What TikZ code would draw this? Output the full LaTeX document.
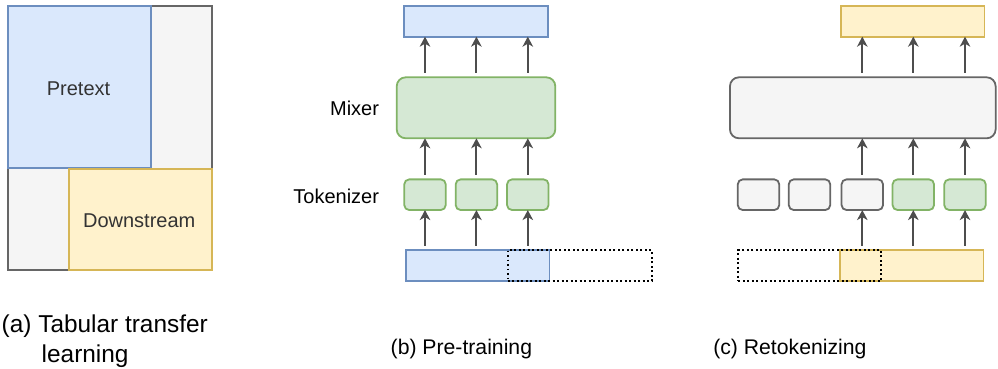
\documentclass[tikz,border=0pt]{standalone}
\usepackage{fontspec}
\setmainfont{Liberation Sans}
\usetikzlibrary{arrows.meta}
\definecolor{bluefill}{HTML}{DAE8FC}
\definecolor{bluedraw}{HTML}{6C8EBF}
\definecolor{yelfill}{HTML}{FFF2CC}
\definecolor{yeldraw}{HTML}{D6B656}
\definecolor{grnfill}{HTML}{D5E8D4}
\definecolor{grndraw}{HTML}{82B366}
\definecolor{greyfill}{HTML}{F5F5F5}
\definecolor{greydraw}{HTML}{666666}
\definecolor{arrcol}{HTML}{4D4D4D}
\definecolor{txtgrey}{HTML}{333333}
\tikzset{
  box/.style={rectangle, line width=1.8pt, inner sep=0pt, outer sep=0pt},
  bluebox/.style={box, fill=bluefill, draw=bluedraw},
  yelbox/.style={box, fill=yelfill, draw=yeldraw},
  grnbox/.style={box, fill=grnfill, draw=grndraw},
  greybox/.style={box, fill=greyfill, draw=greydraw},
  dotbox/.style={box, draw=black, line width=1.9pt, dash pattern=on 1.9pt off 2.6pt},
  tokbox/.style={minimum width=41.5pt, minimum height=30.7pt, rounded corners=5pt},
  mixbox/.style={minimum height=61pt, rounded corners=9pt},
  barbox/.style={minimum width=143.4pt, minimum height=30.7pt},
  arr/.style={draw=arrcol, line width=2pt, -{Stealth[length=10pt,width=10.5pt,inset=3pt]}, shorten <=4.5pt},
  lbl/.style={inner sep=0pt, outer sep=0pt, font=\fontsize{20pt}{24pt}\selectfont},
  captxt/.style={inner sep=0pt, outer sep=0pt, anchor=base west, font=\fontsize{21.2pt}{25pt}\selectfont},
}
\begin{document}
\begin{tikzpicture}[x=1pt,y=-1pt]
\useasboundingbox (0,0) rectangle (998,368);
% ---------- (a)
\node[greybox, minimum width=204pt, minimum height=264pt] (outer) at (110,138) {};
\node[bluebox, minimum width=143pt, minimum height=162pt] (pre) at (79.5,87.2) {};
\node[yelbox, minimum width=143pt, minimum height=101pt] (down) at (140.5,219.5) {};
\node[lbl, text=txtgrey, anchor=base] (pretxt) at (78.5,95.7) {Pretext};
\node[lbl, text=txtgrey, anchor=base] (downtxt) at (139.2,227.7) {Downstream};
\node[captxt, font=\fontsize{24.4pt}{28pt}\selectfont] (capa1) at (1.7,332) {(a) Tabular transfer};
\node[captxt, font=\fontsize{24.4pt}{28pt}\selectfont] (capa2) at (41.7,362) {learning};
% ---------- (b)
\node[bluebox, barbox] (btop) at (476,21.3) {};
\node[grnbox, mixbox, minimum width=158.6pt] (bmix) at (476,107.8) {};
\node[grnbox, tokbox] (bt1) at (425,194.7) {};
\node[grnbox, tokbox] (bt2) at (476.4,194.7) {};
\node[grnbox, tokbox] (bt3) at (527.8,194.7) {};
\node[bluebox, barbox] (bin) at (477.7,265.5) {};
\node[dotbox, minimum width=144pt, minimum height=31pt] (bdot) at (579.7,265.5) {};
\foreach \t in {bt1,bt2,bt3}{
  \draw[arr] (\t.south |- bin.north) -- (\t.south);
  \draw[arr] (\t.north) -- (\t.north |- bmix.south);
  \draw[arr] (\t.north |- bmix.north) -- (\t.north |- btop.south);
}
\node[lbl, anchor=base east] (mixlbl) at (379,115) {Mixer};
\node[lbl, anchor=base east] (toklbl) at (379,203.3) {Tokenizer};
\node[captxt] (capb) at (390.7,354) {(b) Pre-training};
% ---------- (c)
\node[yelbox, barbox] (ctop) at (912.7,21.3) {};
\node[greybox, mixbox, minimum width=265.7pt] (cmix) at (862.8,107.8) {};
\node[greybox, tokbox] (ct1) at (758.5,194.7) {};
\node[greybox, tokbox] (ct2) at (809.5,194.7) {};
\node[greybox, tokbox] (ct3) at (862.3,194.7) {};
\node[grnbox, tokbox] (ct4) at (913.3,194.7) {};
\node[grnbox, tokbox] (ct5) at (965,194.7) {};
\node[yelbox, barbox] (cin) at (911.7,265.5) {};
\node[dotbox, minimum width=142.7pt, minimum height=31pt] (cdot) at (809.7,265.5) {};
\foreach \t in {ct3,ct4,ct5}{
  \draw[arr] (\t.south |- cin.north) -- (\t.south);
  \draw[arr] (\t.north) -- (\t.north |- cmix.south);
  \draw[arr] (\t.north |- cmix.north) -- (\t.north |- ctop.south);
}
\node[captxt] (capc) at (713.3,354) {(c) Retokenizing};
\end{tikzpicture}
\end{document}
